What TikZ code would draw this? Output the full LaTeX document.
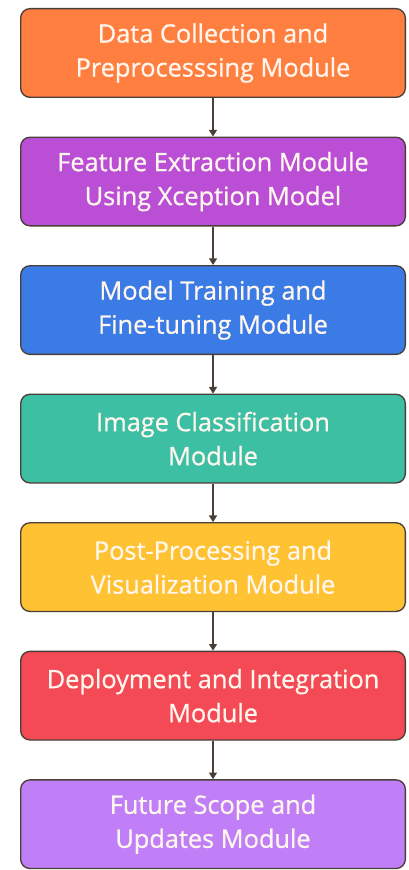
\documentclass[tikz,border=0pt]{standalone}
\usepackage{fontspec}
\setmainfont{Open Sans}[FakeBold=0.8]
\usepackage{tikz}
\usetikzlibrary{arrows.meta, positioning}

\definecolor{modorange}{HTML}{FF7F40}
\definecolor{modpurple}{HTML}{BA4FD6}
\definecolor{modblue}{HTML}{3A7BE6}
\definecolor{modteal}{HTML}{3DBFA3}
\definecolor{modyellow}{HTML}{FFC233}
\definecolor{modred}{HTML}{F44A55}
\definecolor{modlilac}{HTML}{C07FF6}
\definecolor{edgegray}{HTML}{4A3E38}
\definecolor{modtext}{HTML}{FFF6EE}

\tikzset{
    modbox/.style={draw=edgegray, line width=1pt, rounded corners=7pt,
        minimum width=288.5pt, minimum height=66.5pt, align=center,
        text=modtext, font=\fontsize{19}{25.5}\selectfont},
    flow/.style={draw=edgegray, line width=1pt, -{Triangle[length=5pt, width=6pt]}}
}

\begin{document}
\begin{tikzpicture}[x=0.75pt, y=0.75pt, node distance=28.9pt]
    \useasboundingbox (0,0) rectangle (408,-870);

    % The module boxes, top to bottom
    \node[modbox, fill=modorange] (collect) at (213,-53) {Data Collection and\\Preprocesssing Module};
    \node[modbox, fill=modpurple, below=of collect] (extract) {Feature Extraction Module\\Using Xception Model};
    \node[modbox, fill=modblue, below=of extract] (train) {Model Training and\\Fine-tuning Module};
    \node[modbox, fill=modteal, below=of train] (classify) {Image Classification\\Module};
    \node[modbox, fill=modyellow, below=of classify] (post) {Post-Processing and\\Visualization Module};
    \node[modbox, fill=modred, below=of post] (deploy) {Deployment and Integration\\Module};
    \node[modbox, fill=modlilac, below=of deploy] (future) {Future Scope and\\Updates Module};

    % Arrows between the modules
    \foreach \a/\b in {collect/extract, extract/train, train/classify, classify/post, post/deploy, deploy/future}
        \draw[flow] (\a) -- (\b);
\end{tikzpicture}
\end{document}
